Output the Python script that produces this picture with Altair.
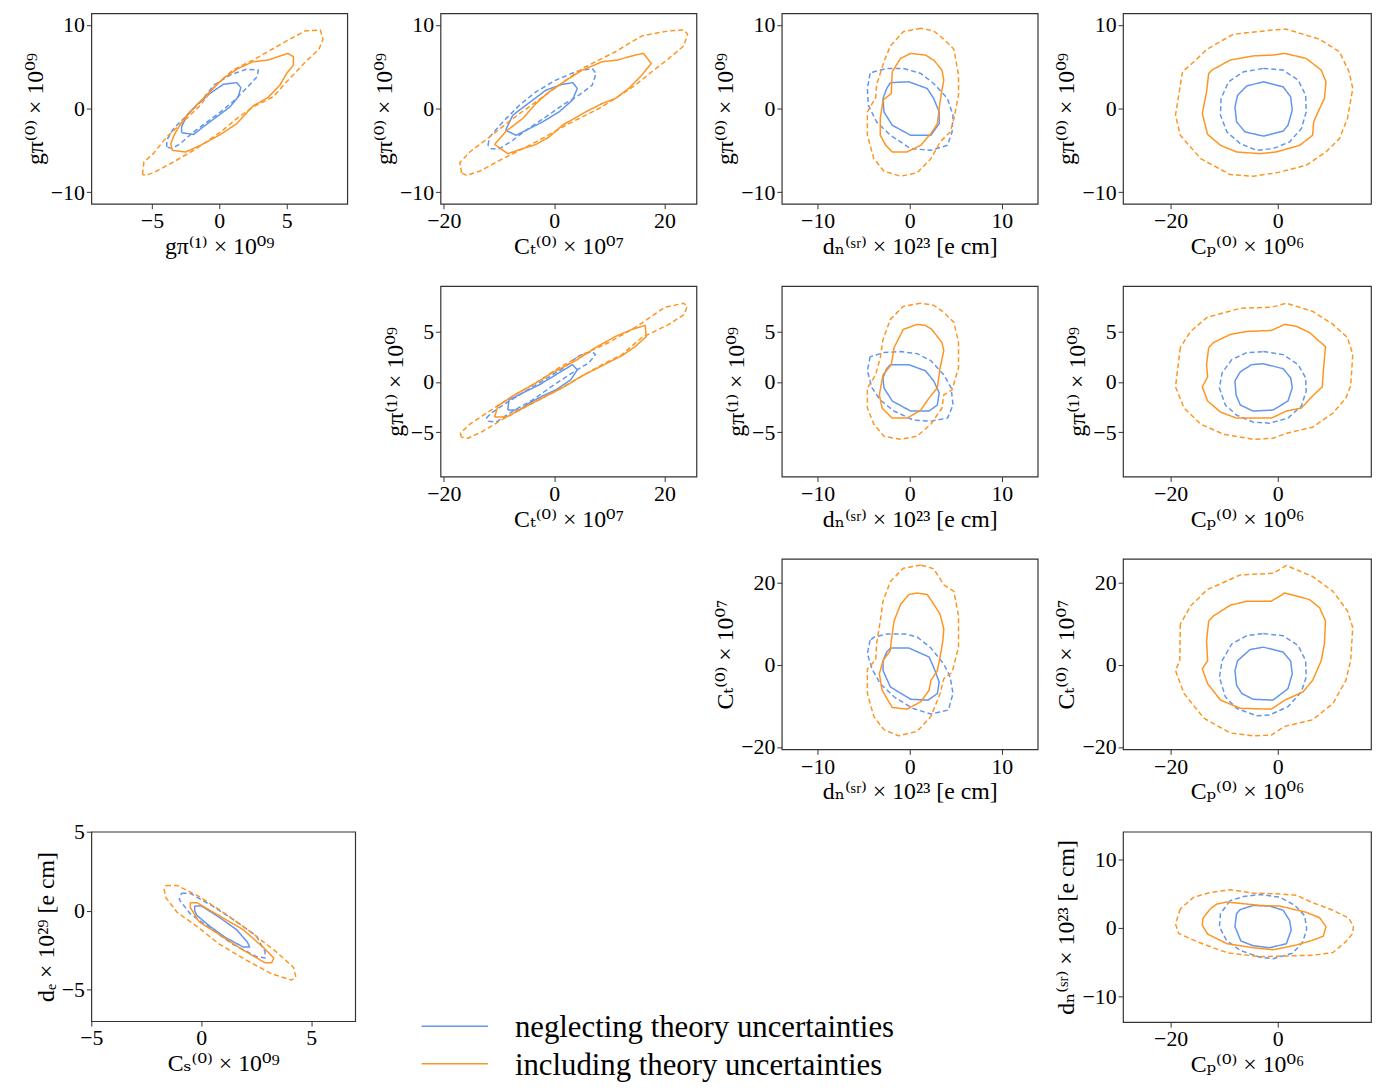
import altair as alt
import pandas as pd

BLUE = "#6495ED"
ORANGE = "#FF9520"
SERIF = "Liberation Serif, DejaVu Serif, serif"
SERIES = ["neglecting theory uncertainties", "including theory uncertainties"]

# ---- axis domains / ticks ----
G0_DOM = [-11.4, 11.4]
G1_DOM_X = [-9.5, 9.5]
G1_DOM_Y = [-9.4, 9.5]
CT_DOM = [-20.6, 25.8]
DN_DOM_X = [-13.9, 13.9]
DN_DOM_Y = [-13.8, 14.1]
CP_DOM = [-28.9, 17.4]
CS_DOM = [-5.0, 7.0]
DE_DOM = [-7.0, 5.0]

# ---- contours: (x, y) points; BS = blue solid, BD = blue dashed, OS = orange solid, OD = orange dashed ----
# P1: x = g_pi^(1), y = g_pi^(0)
P1_OD = [(-5.7,-7.9),(-5.6,-6.4),(-4.9,-5.4),(-3.9,-3.4),(-2.7,-1.6),(-1.4,0.4),(-0.4,2.6),(1.0,4.6),(2.5,5.8),(3.6,6.8),(5.0,8.1),(6.4,9.3),(7.5,9.4),(7.7,8.3),(7.4,7.1),(6.4,5.6),(5.0,3.2),(4.0,1.4),(2.5,0.2),(1.3,-1.2),(0.1,-2.8),(-1.7,-4.8),(-3.4,-6.4),(-4.9,-7.7),(-5.5,-8.0)]
P1_OS = [(-3.5,-5.0),(-2.5,-5.2),(-1.4,-4.4),(0.1,-3.1),(1.3,-1.8),(2.5,0.3),(3.6,1.3),(4.5,2.8),(5.0,4.2),(5.5,5.2),(5.5,6.2),(5.1,6.6),(3.6,5.8),(2.5,5.6),(1.4,4.8),(0.3,3.6),(-0.7,2.0),(-1.7,0.4),(-2.7,-1.4),(-3.3,-3.0),(-3.6,-4.2)]
P1_BD = [(-3.9,-4.6),(-3.9,-3.8),(-3.4,-2.4),(-2.4,-0.8),(-1.4,0.8),(-0.4,2.8),(0.8,4.0),(2.0,4.7),(2.9,4.6),(2.8,3.8),(2.0,2.4),(1.0,0.8),(0.1,-0.4),(-0.9,-1.6),(-1.9,-2.8),(-2.9,-4.2),(-3.5,-4.8)]
P1_BS = [(-2.8,-2.9),(-2.8,-2.2),(-2.4,-0.8),(-1.7,0.4),(-0.7,1.8),(0.3,2.9),(1.3,3.1),(1.6,2.5),(1.4,1.4),(0.8,0.2),(-0.2,-1.0),(-1.2,-2.2),(-1.9,-3.1)]

# P2: x = C_T, y = g_pi^(0)
P2_OD = [(-16.8,-7.7),(-17.1,-6.5),(-15.3,-5.2),(-11.7,-3.4),(-7.5,-1.2),(-3.3,0.8),(0.9,2.8),(5.1,4.8),(11.1,6.8),(15.9,8.7),(20.8,9.3),(23.5,9.4),(24.2,8.9),(23.5,7.5),(20.8,6.0),(17.7,4.4),(14.7,2.8),(11.1,1.2),(8.1,0.0),(2.7,-1.8),(-3.3,-4.0),(-9.3,-6.0),(-13.5,-7.5),(-15.9,-8.0)]
P2_OS = [(-10.8,-4.3),(-8.7,-2.7),(-5.7,-1.2),(-3.3,0.6),(-0.9,2.0),(2.7,3.6),(5.1,4.6),(8.7,5.6),(11.4,5.8),(14.7,6.4),(16.2,6.6),(17.6,5.4),(15.9,4.0),(13.5,2.4),(11.1,1.2),(8.7,0.6),(5.7,-0.4),(1.5,-2.0),(-0.9,-3.4),(-3.3,-4.3),(-5.7,-4.8),(-8.4,-5.4)]
P2_BD = [(-12.0,-4.4),(-11.7,-3.4),(-9.3,-1.6),(-6.3,0.4),(-3.3,2.0),(0.3,3.4),(3.9,4.4),(6.9,4.8),(7.6,4.2),(6.9,2.8),(4.5,1.6),(1.5,0.4),(-1.5,-1.0),(-5.1,-2.6),(-7.5,-3.8),(-9.9,-4.8),(-11.4,-4.8)]
P2_BS = [(-8.8,-2.6),(-7.5,-0.8),(-5.1,0.4),(-1.5,2.2),(1.5,2.9),(3.4,3.1),(4.2,2.4),(3.3,1.0),(0.9,-0.4),(-2.1,-1.6),(-4.5,-2.4),(-6.9,-3.2)]

# P3: x = d_n, y = g_pi^(0)
P3_OD = [(1.2,9.6),(-0.7,9.2),(-2.1,7.5),(-2.8,5.6),(-3.6,2.8),(-3.7,1.3),(-4.6,-0.4),(-4.6,-3.2),(-3.9,-6.0),(-2.8,-7.5),(-1.0,-8.1),(0.8,-7.7),(2.3,-6.0),(3.3,-4.0),(4.4,-2.8),(4.8,-1.2),(5.3,1.6),(5.3,4.0),(4.8,7.1),(3.7,8.3),(2.6,9.3)]
P3_OS = [(0.1,6.6),(-1.0,6.0),(-1.9,4.4),(-2.0,1.8),(-2.9,1.0),(-3.2,-1.2),(-3.2,-3.2),(-2.6,-4.4),(-1.9,-5.2),(-0.3,-5.2),(1.2,-4.4),(2.3,-3.0),(3.0,-1.8),(3.2,0.0),(3.4,1.6),(3.7,3.4),(3.5,4.6),(2.6,5.8),(1.7,6.4)]
P3_BD = [(-4.3,4.2),(-4.6,2.4),(-4.5,0.4),(-3.6,-1.6),(-2.1,-3.2),(0.1,-4.8),(2.3,-5.0),(4.1,-4.4),(4.6,-2.8),(4.7,-0.8),(4.1,1.2),(2.6,3.0),(1.2,4.2),(-0.7,4.8),(-2.5,4.8),(-3.9,4.4)]
P3_BS = [(-2.1,3.1),(-0.1,3.2),(1.9,2.4),(2.6,1.2),(3.2,-0.4),(3.2,-1.8),(2.3,-3.2),(0.1,-3.2),(-1.9,-2.0),(-2.8,-0.4),(-2.9,1.2),(-2.5,2.4)]

# P4: x = C_P, y = g_pi^(0)
P4_OD = [(-17.8,4.4),(-19.1,-0.8),(-18.2,-3.2),(-14.4,-6.0),(-8.9,-7.9),(-4.6,-8.1),(-0.3,-7.7),(5.3,-6.8),(9.0,-5.2),(11.5,-3.6),(13.0,-1.2),(14.0,2.4),(13.3,4.4),(11.5,6.8),(7.8,8.3),(1.6,9.5),(-0.9,9.4),(-8.3,8.9),(-13.2,7.1),(-16.0,5.4)]
P4_OS = [(-12.9,4.2),(-13.3,2.0),(-14.1,-0.6),(-13.1,-3.1),(-10.7,-4.4),(-7.7,-5.2),(-3.3,-5.4),(-0.3,-5.2),(4.1,-4.4),(6.5,-3.2),(6.7,-1.6),(7.8,0.0),(8.7,1.2),(9.0,3.2),(8.1,4.6),(5.3,6.0),(1.3,6.6),(-0.9,6.4),(-4.6,6.3),(-8.9,5.8),(-12.3,4.6)]
P4_BD = [(-2.7,4.8),(1.0,4.6),(3.8,3.4),(5.2,1.6),(5.3,-0.4),(4.4,-2.4),(2.2,-4.0),(-0.9,-4.8),(-4.0,-5.0),(-7.0,-4.2),(-9.5,-2.8),(-10.7,-0.8),(-10.6,1.2),(-9.2,3.2),(-6.4,4.4)]
P4_BS = [(-2.7,3.2),(1.0,2.6),(2.4,1.4),(2.7,-0.2),(1.9,-2.0),(1.0,-2.7),(-2.7,-3.3),(-6.1,-2.8),(-7.7,-1.6),(-8.0,0.2),(-7.5,1.6),(-5.8,2.7)]

# P5: x = C_T, y = g_pi^(1)
P5_OD = [(-16.8,-5.5),(-17.0,-5.1),(-15.3,-4.2),(-11.7,-2.9),(-7.5,-1.4),(-3.3,-0.1),(0.9,1.4),(5.1,2.7),(9.9,3.9),(14.7,5.4),(20.1,7.4),(23.5,7.8),(24.1,7.5),(23.6,6.7),(20.8,5.7),(15.9,4.4),(12.3,2.7),(8.7,1.7),(4.5,0.4),(0.3,-0.9),(-4.5,-2.3),(-9.3,-3.7),(-12.9,-4.9),(-15.6,-5.6)]
P5_OS = [(-10.8,-3.5),(-10.2,-2.4),(-7.5,-1.4),(-3.9,-0.3),(-0.3,0.9),(3.9,2.1),(7.5,3.4),(11.1,4.5),(14.1,5.2),(16.5,5.6),(16.7,4.5),(14.7,3.5),(12.3,2.6),(8.7,1.6),(5.1,0.6),(1.5,-0.6),(-2.1,-1.6),(-5.7,-2.6),(-8.7,-3.5)]
P5_BD = [(-12.3,-3.6),(-11.4,-3.1),(-8.7,-2.1),(-5.7,-1.1),(-2.1,0.1),(1.5,1.3),(4.5,2.6),(6.9,3.0),(7.5,2.7),(6.3,1.9),(3.3,0.9),(-0.3,-0.4),(-3.9,-1.8),(-7.5,-2.9),(-10.5,-4.0),(-11.9,-3.9)]
P5_BS = [(-8.4,-2.8),(-8.2,-1.8),(-5.7,-1.1),(-2.7,-0.3),(0.3,0.7),(3.3,1.7),(4.2,1.2),(3.0,0.2),(0.3,-0.8),(-2.1,-1.4),(-4.5,-2.1),(-6.3,-2.8)]

# P6: x = d_n, y = g_pi^(1)
P6_OD = [(1.2,7.8),(-0.7,7.5),(-2.1,6.2),(-2.9,4.2),(-3.2,2.4),(-3.7,0.7),(-4.6,-0.6),(-4.6,-2.6),(-3.9,-4.2),(-2.8,-5.4),(-1.0,-5.7),(0.8,-5.4),(2.3,-4.2),(3.5,-2.6),(3.7,-1.3),(4.6,-0.8),(5.3,1.4),(5.3,3.9),(4.8,5.9),(3.7,6.9),(2.6,7.6)]
P6_OS = [(0.8,5.7),(-0.7,5.2),(-1.7,3.4),(-2.0,1.7),(-2.9,0.7),(-3.3,-1.3),(-3.0,-2.6),(-1.9,-3.6),(-0.3,-3.6),(1.2,-2.8),(2.1,-1.6),(3.0,-0.6),(3.3,1.4),(3.7,3.1),(3.5,3.9),(2.4,5.2),(1.7,5.6)]
P6_BD = [(-4.3,2.5),(-4.6,1.1),(-4.1,-0.6),(-3.2,-1.8),(-1.7,-2.9),(0.4,-3.8),(2.3,-3.9),(4.1,-3.6),(4.7,-2.3),(4.5,-0.6),(3.7,0.7),(2.3,2.1),(0.8,2.8),(-1.0,3.0),(-2.8,2.9),(-3.9,2.6)]
P6_BS = [(-2.1,1.7),(-0.1,1.7),(1.7,1.1),(2.6,0.1),(3.2,-1.1),(3.0,-2.3),(2.1,-2.9),(0.1,-2.9),(-1.9,-1.9),(-2.8,-0.6),(-2.9,0.4),(-2.5,1.3)]

# P7: x = C_P, y = g_pi^(1)
P7_OD = [(-18.2,3.4),(-19.1,-0.5),(-17.5,-2.6),(-14.4,-4.2),(-10.1,-5.2),(-4.6,-5.7),(-0.9,-5.6),(1.6,-5.1),(6.5,-4.5),(10.3,-3.1),(12.7,-1.6),(13.6,-0.4),(14.0,2.7),(13.0,4.4),(10.3,5.7),(6.5,7.0),(1.6,7.8),(-1.2,7.4),(-7.0,7.3),(-13.2,6.4),(-16.3,5.0)]
P7_OS = [(-12.9,3.4),(-13.3,1.7),(-13.1,0.5),(-14.1,-0.5),(-13.1,-1.9),(-10.7,-3.0),(-7.7,-3.6),(-1.2,-3.6),(1.6,-2.9),(4.4,-2.6),(6.5,-1.4),(8.3,-0.5),(8.5,1.1),(8.9,3.5),(7.8,4.0),(5.9,4.9),(3.5,5.5),(1.3,5.7),(-1.2,5.1),(-5.8,5.0),(-8.9,4.7),(-12.0,3.9)]
P7_BD = [(-2.7,3.0),(1.0,2.7),(3.8,1.7),(5.2,0.4),(5.3,-0.9),(4.4,-2.4),(1.9,-3.6),(-1.5,-4.1),(-4.6,-4.0),(-7.7,-3.3),(-9.8,-2.3),(-10.9,-0.6),(-10.4,0.9),(-8.6,2.2),(-5.8,2.9)]
P7_BS = [(-2.7,1.8),(1.0,1.3),(2.4,0.4),(2.7,-0.6),(1.9,-1.9),(-0.9,-2.8),(-4.6,-2.9),(-7.0,-2.3),(-7.8,-1.3),(-8.0,0.1),(-7.0,1.0),(-4.9,1.7)]

# P8: x = d_n, y = C_T
P8_OD = [(1.2,24.3),(-0.7,23.5),(-2.1,20.3),(-2.9,15.5),(-3.2,10.7),(-3.6,5.1),(-3.7,1.2),(-4.6,-1.0),(-4.6,-7.0),(-3.9,-12.6),(-2.8,-15.8),(-1.2,-17.3),(0.8,-16.2),(2.3,-12.6),(3.3,-7.0),(3.7,-3.4),(4.6,-1.8),(5.3,4.3),(5.3,11.9),(4.8,17.9),(3.7,19.5),(2.6,23.4)]
P8_OS = [(0.8,17.5),(-0.1,17.1),(-1.0,14.7),(-1.7,10.7),(-2.0,5.9),(-2.1,3.5),(-2.9,1.0),(-3.3,-2.2),(-3.0,-6.2),(-1.9,-10.4),(-0.3,-10.8),(1.2,-9.0),(2.1,-6.2),(2.3,-3.8),(3.0,-1.4),(3.3,1.9),(3.6,5.9),(3.7,8.7),(3.3,12.3),(2.4,15.5),(1.9,17.1)]
P8_BD = [(-4.3,6.0),(-4.6,2.7),(-4.1,-1.0),(-3.2,-4.6),(-1.7,-7.8),(0.3,-10.6),(2.3,-12.0),(4.2,-11.0),(4.7,-7.0),(4.4,-3.0),(3.7,0.2),(2.3,4.1),(0.8,6.8),(-0.5,7.5),(-2.5,7.5),(-3.9,6.7)]
P8_BS = [(-2.1,4.1),(-0.1,4.1),(2.1,1.9),(2.6,-0.6),(3.2,-4.2),(3.0,-7.0),(2.0,-8.6),(0.1,-8.4),(-2.1,-5.4),(-2.9,-1.4),(-2.9,1.0),(-2.5,3.1)]

# P9: x = C_P, y = C_T
P9_OD = [(-18.2,9.9),(-18.3,1.0),(-19.1,-1.4),(-17.5,-7.0),(-13.8,-13.0),(-8.9,-16.6),(-4.6,-17.3),(-1.2,-17.1),(1.3,-15.0),(6.5,-13.4),(10.3,-9.4),(12.7,-3.8),(13.6,1.0),(14.0,9.1),(13.0,13.1),(10.3,17.9),(6.5,21.5),(1.6,24.2),(-0.9,22.3),(-7.0,21.9),(-13.2,18.3),(-16.3,14.3)]
P9_OS = [(-12.9,10.7),(-13.3,5.9),(-13.1,1.0),(-14.1,-1.0),(-13.1,-4.6),(-10.7,-8.6),(-7.0,-10.6),(-1.2,-10.8),(1.3,-8.6),(4.7,-6.6),(6.5,-3.8),(8.1,1.0),(8.7,5.1),(8.9,10.7),(7.8,13.9),(5.9,15.9),(1.3,17.5),(-1.2,15.5),(-5.8,15.5),(-8.9,14.5),(-12.0,11.9)]
P9_BD = [(-2.7,7.6),(1.0,7.1),(3.8,4.7),(5.2,1.0),(5.3,-3.0),(4.4,-6.6),(1.9,-10.2),(-1.5,-12.2),(-4.0,-12.4),(-7.7,-10.6),(-9.8,-7.8),(-10.9,-3.0),(-10.4,1.0),(-8.6,5.1),(-5.8,7.1)]
P9_BS = [(-2.7,4.3),(1.0,3.1),(2.4,0.9),(2.7,-2.2),(1.9,-5.8),(-0.9,-8.6),(-4.6,-8.4),(-6.7,-7.0),(-7.7,-5.0),(-8.0,-1.4),(-7.5,1.0),(-5.2,3.7)]

# P10: x = C_S, y = d_e
P10_OD = [(-1.6,1.6),(-1.1,1.6),(-0.1,0.9),(1.1,-0.2),(2.3,-1.4),(3.4,-2.6),(4.2,-3.6),(4.3,-4.2),(4.1,-4.4),(3.2,-4.0),(2.0,-3.1),(0.8,-2.1),(-0.2,-1.0),(-1.1,-0.1),(-1.6,0.8),(-1.7,1.4)]
P10_OS = [(-0.5,0.5),(-0.2,0.5),(0.8,-0.3),(1.9,-1.2),(2.8,-2.3),(3.3,-3.0),(3.2,-3.3),(2.9,-3.3),(1.9,-2.5),(0.8,-1.5),(-0.1,-0.7),(-0.5,0.2)]
P10_BD = [(-0.9,1.1),(-0.5,1.1),(0.5,0.3),(1.6,-0.7),(2.5,-1.6),(2.9,-2.6),(2.9,-3.0),(2.5,-2.9),(1.4,-2.1),(0.4,-1.1),(-0.5,-0.2),(-1.0,0.7)]
P10_BS = [(-0.3,0.3),(0.0,0.3),(0.8,-0.4),(1.6,-1.2),(2.1,-2.0),(2.2,-2.3),(1.9,-2.3),(1.1,-1.7),(0.4,-1.0),(-0.2,-0.3),(-0.3,0.0)]

# P11: x = C_P, y = d_n
P11_OD = [(-18.2,2.8),(-19.1,0.6),(-18.5,-0.8),(-15.1,-2.0),(-10.7,-3.3),(-8.9,-3.7),(-3.3,-4.2),(1.6,-4.1),(6.5,-4.0),(10.3,-3.6),(12.7,-2.0),(14.0,-0.8),(14.1,0.2),(13.3,1.4),(10.3,2.6),(6.2,3.8),(3.5,4.8),(-0.3,5.0),(-4.6,5.1),(-8.9,5.6),(-12.6,5.2),(-15.7,4.5)]
P11_OS = [(-12.6,2.8),(-14.0,1.4),(-14.1,0.4),(-13.1,-0.9),(-9.5,-2.3),(-4.6,-2.9),(-0.9,-3.2),(3.5,-2.5),(6.5,-1.8),(8.5,-1.2),(9.0,0.2),(7.8,1.5),(5.3,2.3),(0.4,3.2),(-3.3,3.3),(-7.0,3.6),(-9.5,3.8),(-11.4,3.5)]
P11_BD = [(-8.9,4.0),(-10.7,2.1),(-10.9,0.2),(-9.6,-1.8),(-7.0,-3.3),(-3.3,-4.3),(-0.9,-4.5),(2.8,-3.7),(4.7,-2.0),(5.4,-0.1),(5.0,1.8),(3.2,3.3),(0.4,4.5),(-3.3,4.9),(-6.4,4.6)]
P11_BS = [(-7.7,2.1),(-8.0,0.2),(-6.9,-1.9),(-4.6,-2.6),(-1.5,-2.9),(1.6,-2.3),(2.5,-0.3),(2.2,1.1),(1.0,2.6),(-1.5,3.2),(-4.6,3.3),(-7.0,2.7)]

T_G0 = "gπ⁽⁰⁾ × 10⁰⁹"
T_G1 = "gπ⁽¹⁾ × 10⁰⁹"
T_CT = "Cₜ⁽⁰⁾ × 10⁰⁷"
T_DN = "dₙ⁽ˢʳ⁾ × 10²³ [e cm]"
T_CP = "Cₚ⁽⁰⁾ × 10⁰⁶"
T_CS = "Cₛ⁽⁰⁾ × 10⁰⁹"
T_DE = "dₑ × 10²⁹ [e cm]"

W, H = 258, 192
W4 = 250


def contour_df(bs, bd, os_, od):
    rows = []
    for name, pts, ser, lev in [("bd", bd, SERIES[0], "2"), ("bs", bs, SERIES[0], "1"),
                                ("od", od, SERIES[1], "2"), ("os", os_, SERIES[1], "1")]:
        closed = list(pts) + [pts[0]]
        for i, (x, y) in enumerate(closed):
            rows.append({"x": x, "y": y, "c": name, "s": ser, "lev": lev, "i": i})
    return pd.DataFrame(rows)


def panel(pts, xdom, ydom, xt, yt, xv, yv, w=W, h=H):
    df = contour_df(*pts)
    return alt.Chart(df).mark_line(strokeWidth=1.5, strokeJoin="round").encode(
        x=alt.X("x:Q", scale=alt.Scale(domain=xdom, nice=False, zero=False),
                axis=alt.Axis(title=xt, values=xv)),
        y=alt.Y("y:Q", scale=alt.Scale(domain=ydom, nice=False, zero=False),
                axis=alt.Axis(title=yt, values=yv)),
        color=alt.Color("s:N", scale=alt.Scale(domain=SERIES, range=[BLUE, ORANGE]), legend=None),
        strokeDash=alt.StrokeDash("lev:N", scale=alt.Scale(domain=["1", "2"], range=[[1, 0], [5, 3]]), legend=None),
        detail="c:N",
        order="i:Q",
    ).properties(width=w, height=h)


def empty(w=W, h=H):
    return alt.Chart(pd.DataFrame({"a": [0]})).mark_point(opacity=0, size=1).encode(
        x=alt.value(w / 2), y=alt.value(h / 2)
    ).properties(width=w, height=h, view=alt.ViewBackground(stroke="transparent"))


def legend_panel(w=250, h=H):
    df = pd.DataFrame({"s": SERIES})
    yenc = alt.Y("s:N", scale=alt.Scale(type="point", domain=SERIES, range=[196, 234], padding=0), axis=None)
    rule = alt.Chart(df).mark_rule(strokeWidth=1.5).encode(
        x=alt.value(-19), x2=alt.value(48), y=yenc,
        color=alt.Color("s:N", scale=alt.Scale(domain=SERIES, range=[BLUE, ORANGE]), legend=None),
    )
    text = alt.Chart(df).mark_text(align="left", baseline="middle", dy=2, fontSize=31, font=SERIF,
                                   color="black").encode(
        x=alt.value(75), y=yenc, text="s:N"
    )
    return alt.layer(rule, text).properties(width=w, height=h, view=alt.ViewBackground(stroke="transparent"))


g0v = [-10, 0, 10]
g1v = [-5, 0, 5]
ctv = [-20, 0, 20]
dnv = [-10, 0, 10]
cpv = [-20, 0]

p1 = panel((P1_BS, P1_BD, P1_OS, P1_OD), G1_DOM_X, G0_DOM, T_G1, T_G0, g1v, g0v)
p2 = panel((P2_BS, P2_BD, P2_OS, P2_OD), CT_DOM, G0_DOM, T_CT, T_G0, ctv, g0v)
p3 = panel((P3_BS, P3_BD, P3_OS, P3_OD), DN_DOM_X, G0_DOM, T_DN, T_G0, dnv, g0v)
p4 = panel((P4_BS, P4_BD, P4_OS, P4_OD), CP_DOM, G0_DOM, T_CP, T_G0, cpv, g0v, w=W4)
p5 = panel((P5_BS, P5_BD, P5_OS, P5_OD), CT_DOM, G1_DOM_Y, T_CT, T_G1, ctv, g1v)
p6 = panel((P6_BS, P6_BD, P6_OS, P6_OD), DN_DOM_X, G1_DOM_Y, T_DN, T_G1, dnv, g1v)
p7 = panel((P7_BS, P7_BD, P7_OS, P7_OD), CP_DOM, G1_DOM_Y, T_CP, T_G1, cpv, g1v, w=W4)
p8 = panel((P8_BS, P8_BD, P8_OS, P8_OD), DN_DOM_X, CT_DOM, T_DN, T_CT, dnv, ctv)
p9 = panel((P9_BS, P9_BD, P9_OS, P9_OD), CP_DOM, CT_DOM, T_CP, T_CT, cpv, ctv, w=W4)
p10 = panel((P10_BS, P10_BD, P10_OS, P10_OD), CS_DOM, DE_DOM, T_CS, T_DE, [-5, 0, 5], [-5, 0, 5], w=266, h=191)
p11 = panel((P11_BS, P11_BD, P11_OS, P11_OD), CP_DOM, DN_DOM_Y, T_CP, T_DN, cpv, dnv, w=W4)

cells = [
    p1, p2, p3, p4,
    empty(), p5, p6, p7,
    empty(), empty(), p8, p9,
    p10, legend_panel(), empty(), p11,
]

chart = alt.concat(
    *cells, columns=4, spacing={"row": 83, "column": 86}, bounds="flush", align="none"
).properties(
    padding={"left": 14, "top": 0, "right": 0, "bottom": 0}
).configure_view(
    stroke="#333333", strokeWidth=1.2
).configure_axis(
    labelFont=SERIF, labelFontSize=22, labelColor="black", labelFlush=False,
    titleFont=SERIF, titleFontSize=24, titleFontWeight="normal", titleColor="black",
    grid=False, domain=False, tickColor="#333333", tickSize=5, tickWidth=1,
    labelPadding=2, titlePadding=3,
)

chart.save("out.html", embed_options={"renderer": "svg", "actions": False})
